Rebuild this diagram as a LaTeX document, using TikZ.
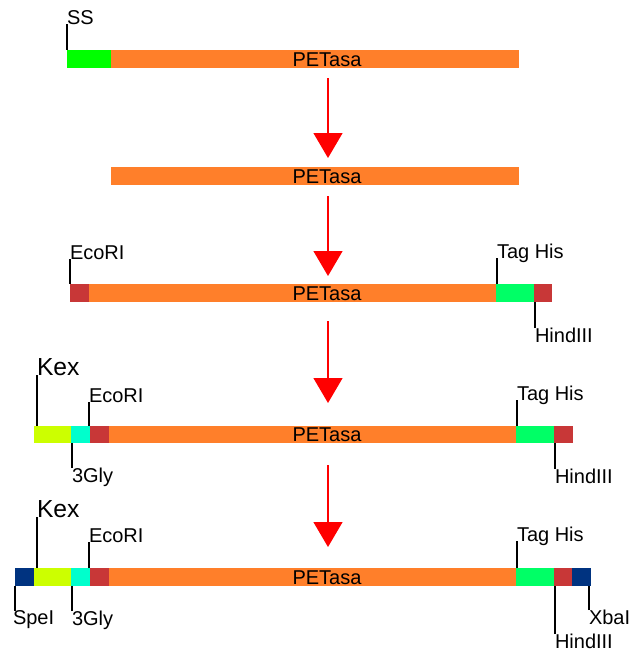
\documentclass[tikz,border=0pt]{standalone}
\usepackage{fontspec}
\setmainfont{Liberation Sans}
\usetikzlibrary{arrows.meta}
\definecolor{pet}{HTML}{FF7F2A}
\definecolor{ssg}{HTML}{00FF00}
\definecolor{hisg}{HTML}{00FF66}
\definecolor{site}{HTML}{C83737}
\definecolor{kexc}{HTML}{CCFF00}
\definecolor{glyc}{HTML}{00FFCC}
\definecolor{bluec}{HTML}{003380}
\tikzset{
  segbox/.style={rectangle, inner sep=0pt, outer sep=0pt, draw=none},
  lbl/.style={inner sep=0pt, outer sep=0pt, font=\fontsize{15}{18}\selectfont},
  kexlbl/.style={inner sep=0pt, outer sep=0pt, font=\fontsize{18.5}{22}\selectfont},
  leader/.style={line width=0.8pt, draw=black},
  thickleader/.style={line width=1.2pt, draw=black},
  redarrow/.style={draw=red, fill=red, line width=1pt, -{Triangle[width=21.75pt,length=18.75pt]}}
}
\newcommand\segm[6]{\node[segbox, fill=#6, minimum width={(#3-#2)*0.75pt}, minimum height={(#5-#4)*0.75pt}] (#1) at ({(#2+#3)/2},{(#4+#5)/2}) {};}
\begin{document}
\begin{tikzpicture}[x=0.75pt,y=-0.75pt]
\useasboundingbox (0,0) rectangle (629,653);
% Row 1
\segm{ssA}{67}{111}{50}{68}{ssg}
\segm{petA}{111}{519}{50}{68}{pet}
\node[lbl, anchor=base] (tA) at (327,66) {PETasa};
\node[lbl, anchor=base west] (ss) at (67,24) {SS};
\draw[leader] (ss.base west) -- (ss.base west |- ssA.north);
% Row 2
\segm{petB}{111}{519}{167}{185}{pet}
\node[lbl, anchor=base] (tB) at (327,183) {PETasa};
% Row 3
\segm{ecoC}{70}{89}{284}{302}{site}
\segm{petC}{89}{496}{284}{302}{pet}
\segm{hisC}{496}{534}{284}{302}{hisg}
\segm{hinC}{534}{552}{284}{302}{site}
\node[lbl, anchor=base] (tC) at (327,300) {PETasa};
\node[lbl, anchor=base west] (ecoLC) at (70,259) {EcoRI};
\draw[leader] (ecoLC.base west) -- (ecoLC.base west |- ecoC.north);
\node[lbl, anchor=base west] (hisLC) at (497,258) {Tag His};
\draw[leader] (hisLC.base west) -- (hisLC.base west |- hisC.north);
\node[lbl, anchor=north west] (hinLC) at (535,328) {HindIII};
\draw[leader] (hinLC.north west) -- (hinLC.north west |- hinC.south);
% Row 4
\segm{kexD}{34}{71}{426}{443}{kexc}
\segm{glyD}{71}{90}{426}{443}{glyc}
\segm{ecoD}{90}{109}{426}{443}{site}
\segm{petD}{109}{516}{426}{443}{pet}
\segm{hisD}{516}{554}{426}{443}{hisg}
\segm{hinD}{554}{573}{426}{443}{site}
\node[lbl, anchor=base] (tD) at (327,441) {PETasa};
\node[kexlbl, anchor=base west] (kexLD) at (37,375) {Kex};
\draw[thickleader] (kexLD.base west) -- (kexLD.base west |- kexD.north);
\node[lbl, anchor=base west] (ecoLD) at (89,402) {EcoRI};
\draw[leader] (ecoLD.base west) -- (ecoLD.base west |- ecoD.north);
\node[lbl, anchor=north west] (glyLD) at (72,468) {3Gly};
\draw[leader] (glyLD.north west) -- (glyLD.north west |- glyD.south);
\node[lbl, anchor=base west] (hisLD) at (517,400) {Tag His};
\draw[leader] (hisLD.base west) -- (hisLD.base west |- hisD.north);
\node[lbl, anchor=north west] (hinLD) at (555,469) {HindIII};
\draw[leader] (hinLD.north west) -- (hinLD.north west |- hinD.south);
% Row 5
\segm{speE}{15}{34}{568}{586}{bluec}
\segm{kexE}{34}{71}{568}{586}{kexc}
\segm{glyE}{71}{90}{568}{586}{glyc}
\segm{ecoE}{90}{109}{568}{586}{site}
\segm{petE}{109}{516}{568}{586}{pet}
\segm{hisE}{516}{554}{568}{586}{hisg}
\segm{hinE}{554}{572}{568}{586}{site}
\segm{xbaE}{572}{591}{568}{586}{bluec}
\node[lbl, anchor=base] (tE) at (327,584) {PETasa};
\node[kexlbl, anchor=base west] (kexLE) at (37,517) {Kex};
\draw[thickleader] (kexLE.base west) -- (kexLE.base west |- kexE.north);
\node[lbl, anchor=base west] (ecoLE) at (89,542) {EcoRI};
\draw[leader] (ecoLE.base west) -- (ecoLE.base west |- ecoE.north);
\node[lbl, anchor=north west] (speLE) at (13,611) {SpeI};
\draw[leader] ([xshift=1.5pt]speLE.north west) -- ([xshift=1.5pt]speLE.north west |- speE.south);
\node[lbl, anchor=north west] (glyLE) at (72,611) {3Gly};
\draw[leader] (glyLE.north west) -- (glyLE.north west |- glyE.south);
\node[lbl, anchor=base west] (hisLE) at (517,541) {Tag His};
\draw[leader] (hisLE.base west) -- (hisLE.base west |- hisE.north);
\node[lbl, anchor=north west] (hinLE) at (555,634) {HindIII};
\draw[thickleader] (hinLE.north west) -- (hinLE.north west |- hinE.south);
\node[lbl, anchor=north west] (xbaLE) at (589,610) {XbaI};
\draw[leader] (xbaLE.north west) -- (xbaLE.north west |- xbaE.south);
% Arrows
\coordinate (a1s) at (328,78);  \coordinate (a1e) at (328,158);
\coordinate (a2s) at (328,196); \coordinate (a2e) at (328,276);
\coordinate (a3s) at (328,321); \coordinate (a3e) at (328,403);
\coordinate (a4s) at (328,465); \coordinate (a4e) at (328,547);
\draw[redarrow] (a1s) -- (a1e);
\draw[redarrow] (a2s) -- (a2e);
\draw[redarrow] (a3s) -- (a3e);
\draw[redarrow] (a4s) -- (a4e);
\end{tikzpicture}
\end{document}
